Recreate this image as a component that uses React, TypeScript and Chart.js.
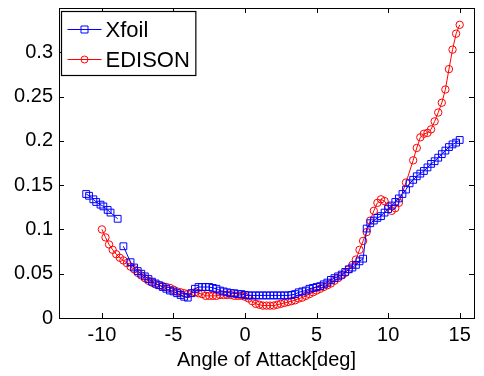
import React, { useEffect, useRef } from "react";
import { Chart, registerables } from "chart.js";

Chart.register(...registerables);

const xTicks = [-10, -5, 0, 5, 10, 15];
const yTicks = [0, 0.05, 0.1, 0.15, 0.2, 0.25, 0.3];
const yTickLabels = ["0", "0.05", "0.1", "0.15", "0.2", "0.25", "0.3"];
const xTitle = "Angle of Attack[deg]";

const xfoilLabel = "Xfoil";
const xfoilAoA = [
  -11.1, -10.9, -10.6, -10.4, -10.1, -9.9, -9.6, -9.4, -8.9, -8.7,
  -8.5, -8.0, -7.75, -7.5, -7.25, -7.0, -6.75, -6.5, -6.25, -6.0,
  -5.75, -5.5, -5.25, -5.0, -4.75, -4.5, -4.25, -4.0, -3.75, -3.5,
  -3.25, -3.0, -2.75, -2.5, -2.25, -2.0, -1.75, -1.5, -1.25, -1.0,
  -0.75, -0.5, -0.25, 0, 0.25, 0.5, 0.75, 1.0, 1.25, 1.5,
  1.75, 2.0, 2.25, 2.5, 2.75, 3.0, 3.25, 3.5, 3.75, 4.0,
  4.25, 4.5, 4.75, 5.0, 5.25, 5.5, 5.75, 6.0, 6.25, 6.5,
  6.75, 7.0, 7.25, 7.5, 7.75, 8.0, 8.25, 8.5, 8.75, 9.0,
  9.25, 9.5, 9.75, 10.0, 10.25, 10.5, 10.75, 11.0, 11.25, 11.5,
  11.75, 12.0, 12.25, 12.5, 12.75, 13.0, 13.25, 13.5, 13.75, 14.0,
  14.25, 14.5, 14.75, 15.0,
];
const xfoilCl = [
  0.140, 0.138, 0.134, 0.131, 0.128, 0.126, 0.122, 0.119, 0.112, null,
  0.081, 0.063, 0.057, 0.053, 0.050, 0.047, 0.044, 0.041, 0.039, 0.037,
  0.035, 0.033, 0.031, 0.030, 0.028, 0.026, 0.024, 0.023, 0.028, 0.033,
  0.035, 0.035, 0.035, 0.035, 0.034, 0.033, 0.031, 0.030, 0.029, 0.028,
  0.028, 0.027, 0.027, 0.026, 0.0255, 0.0255, 0.0255, 0.0255, 0.0255, 0.0255,
  0.0255, 0.0255, 0.0255, 0.0255, 0.0255, 0.0255, 0.026, 0.027, 0.029, 0.030,
  0.031, 0.033, 0.034, 0.035, 0.036, 0.038, 0.040, 0.043, 0.045, 0.047,
  0.049, 0.052, 0.055, 0.057, 0.060, 0.064, 0.067, 0.101, 0.107, 0.110,
  0.113, 0.115, 0.119, 0.123, 0.127, 0.131, 0.135, 0.140, 0.145, 0.152,
  0.156, 0.160, 0.163, 0.166, 0.170, 0.174, 0.177, 0.181, 0.185, 0.189,
  0.193, 0.196, 0.198, 0.201,
];

const edisonLabel = "EDISON";
const edisonAoA = [
  -10.0, -9.75, -9.5, -9.25, -9.0, -8.75, -8.5, -8.25, -8.0, -7.75,
  -7.5, -7.25, -7.0, -6.75, -6.5, -6.25, -6.0, -5.75, -5.5, -5.25,
  -5.0, -4.75, -4.5, -4.25, -4.0, -3.75, -3.5, -3.25, -3.0, -2.75,
  -2.5, -2.25, -2.0, -1.75, -1.5, -1.25, -1.0, -0.75, -0.5, -0.25,
  0, 0.25, 0.5, 0.75, 1.0, 1.25, 1.5, 1.75, 2.0, 2.25,
  2.5, 2.75, 3.0, 3.25, 3.5, 3.75, 4.0, 4.25, 4.5, 4.75,
  5.0, 5.25, 5.5, 5.75, 6.0, 6.25, 6.5, 6.75, 7.0, 7.25,
  7.5, 7.75, 8.0, 8.25, 8.5, 8.75, 9.0, 9.25, 9.5, 9.75,
  10.0, 10.25, 10.5, 10.75, 11.25, 11.75, 12.0, 12.25, 12.5, 12.75,
  13.0, 13.25, 13.5, 13.75, 14.0, 14.25, 14.5, 14.75, 15.0,
];
const edisonCl = [
  0.100, 0.091, 0.083, 0.077, 0.072, 0.068, 0.065, 0.062, 0.058, 0.055,
  0.051, 0.048, 0.045, 0.042, 0.040, 0.038, 0.037, 0.036, 0.035, 0.034,
  0.032, 0.030, 0.029, 0.028, 0.027, 0.028, 0.029, 0.028, 0.027, 0.025,
  0.025, 0.025, 0.025, 0.026, 0.026, 0.026, 0.026, 0.025, 0.025, 0.025,
  0.024, 0.022, 0.019, 0.016, 0.015, 0.014, 0.014, 0.014, 0.014, 0.015,
  0.016, 0.017, 0.018, 0.019, 0.020, 0.022, 0.023, 0.025, 0.027, 0.029,
  0.031, 0.033, 0.035, 0.037, 0.039, 0.042, 0.045, 0.048, 0.051, 0.055,
  0.060, 0.066, 0.077, 0.087, 0.097, 0.110, 0.121, 0.130, 0.134, 0.132,
  0.126, 0.121, 0.124, 0.130, 0.153, 0.178, 0.192, 0.204, 0.208, 0.209,
  0.213, 0.222, 0.232, 0.243, 0.258, 0.281, 0.303, 0.321, 0.331,
];

const FONT = "Arial, 'Liberation Sans', Helvetica, sans-serif";

const boxPlugin = {
  id: "matlabBox",
  afterDatasetsDraw(chart: any) {
    const { ctx, chartArea } = chart;
    const { left, right, top, bottom } = chartArea;
    const xs = chart.scales.x;
    const ys = chart.scales.y;
    const tl = 5;
    ctx.save();
    ctx.strokeStyle = "#000";
    ctx.lineWidth = 1;
    ctx.beginPath();
    for (const v of xTicks) {
      const px = Math.round(xs.getPixelForValue(v)) + 0.5;
      ctx.moveTo(px, bottom);
      ctx.lineTo(px, bottom - tl);
      ctx.moveTo(px, top);
      ctx.lineTo(px, top + tl);
    }
    for (const v of yTicks) {
      const py = Math.round(ys.getPixelForValue(v)) + 0.5;
      ctx.moveTo(left, py);
      ctx.lineTo(left + tl, py);
      ctx.moveTo(right, py);
      ctx.lineTo(right - tl, py);
    }
    ctx.stroke();
    ctx.strokeRect(Math.round(left) + 0.5, Math.round(top) + 0.5, Math.round(right - left), Math.round(bottom - top));

    // legend
    const fs = 22;
    ctx.font = `${fs}px ${FONT}`;
    const ds = chart.data.datasets;
    let maxW = 0;
    for (const d of ds) maxW = Math.max(maxW, ctx.measureText(d.label).width);
    const bx = Math.round(left) + 2.5;
    const by = Math.round(top) + 3.5;
    const rowH = 30;
    const bw = 44 + maxW + 6;
    const bh = 16 + rowH * ds.length - 12;
    ctx.fillStyle = "#fff";
    ctx.fillRect(bx, by, bw, bh);
    ctx.strokeStyle = "#000";
    ctx.lineWidth = 1.2;
    ctx.strokeRect(bx, by, bw, bh);
    ds.forEach((d: any, i: number) => {
      const cy = by + 18 + i * rowH;
      ctx.strokeStyle = d.borderColor;
      ctx.lineWidth = 1;
      ctx.beginPath();
      ctx.moveTo(bx + 6, cy);
      ctx.lineTo(bx + 40, cy);
      ctx.stroke();
      ctx.beginPath();
      if (d.pointStyle === "rect") {
        ctx.rect(bx + 23 - 3.5, cy - 3.5, 7, 7);
      } else {
        ctx.arc(bx + 23, cy, 3.5, 0, Math.PI * 2);
      }
      ctx.stroke();
      ctx.fillStyle = "#000";
      ctx.textBaseline = "middle";
      ctx.textAlign = "left";
      ctx.fillText(d.label, bx + 44, cy + 1);
    });
    ctx.restore();
  },
};

export default function App() {
  const ref = useRef<HTMLCanvasElement>(null);
  useEffect(() => {
    if (!ref.current) return;
    const chart = new Chart(ref.current, {
      type: "line",
      data: {
        datasets: [
          {
            label: xfoilLabel,
            data: xfoilAoA.map((x, i) => ({ x, y: xfoilCl[i] })) as any,
            borderColor: "#0000ff",
            backgroundColor: "rgba(0,0,0,0)",
            borderWidth: 1,
            pointStyle: "rect",
            pointRadius: 4.8,
            pointBorderWidth: 1,
            pointBackgroundColor: "rgba(0,0,0,0)",
            pointBorderColor: "#0000ff",
            spanGaps: false,
            tension: 0,
          },
          {
            label: edisonLabel,
            data: edisonAoA.map((x, i) => ({ x, y: edisonCl[i] })) as any,
            borderColor: "#ff0000",
            backgroundColor: "rgba(0,0,0,0)",
            borderWidth: 1,
            pointStyle: "circle",
            pointRadius: 3.7,
            pointBorderWidth: 1,
            pointBackgroundColor: "rgba(0,0,0,0)",
            pointBorderColor: "#ff0000",
            tension: 0,
          },
        ],
      },
      options: {
        responsive: false,
        animation: false,
        devicePixelRatio: 1,
        layout: { padding: { top: 8, right: 10, left: 0, bottom: 0 } },
        plugins: {
          legend: { display: false },
          tooltip: { enabled: false },
        },
        scales: {
          x: {
            type: "linear",
            min: -13,
            max: 16,
            afterBuildTicks: (s: any) => {
              s.ticks = xTicks.map((v) => ({ value: v }));
            },
            afterFit: (s: any) => {
              s.height = 58;
              s.paddingLeft = 0;
              s.paddingRight = 0;
            },
            grid: { display: false, drawTicks: false, tickLength: 0 },
            border: { display: false },
            ticks: {
              color: "#000",
              font: { family: FONT, size: 20 },
              padding: 5,
              maxRotation: 0,
              autoSkip: false,
            },
            title: {
              display: true,
              text: xTitle,
              color: "#000",
              font: { family: FONT, size: 20 },
              padding: { top: 0, bottom: 4 },
            },
          },
          y: {
            type: "linear",
            min: 0,
            max: 0.35,
            afterBuildTicks: (s: any) => {
              s.ticks = yTicks.map((v) => ({ value: v }));
            },
            afterFit: (s: any) => {
              s.width = 59;
              s.paddingTop = 0;
              s.paddingBottom = 0;
            },
            grid: { display: false, drawTicks: false, tickLength: 0 },
            border: { display: false },
            ticks: {
              color: "#000",
              font: { family: FONT, size: 20 },
              padding: 6,
              autoSkip: false,
              callback: (_v: any, i: number) => yTickLabels[i],
            },
          },
        },
      },
      plugins: [boxPlugin],
    });
    return () => chart.destroy();
  }, []);
  return (
    <div style={{ position: "absolute", left: 0, top: 0, width: 484, height: 376, background: "#fff" }}>
      <canvas ref={ref} width={484} height={376} />
    </div>
  );
}
